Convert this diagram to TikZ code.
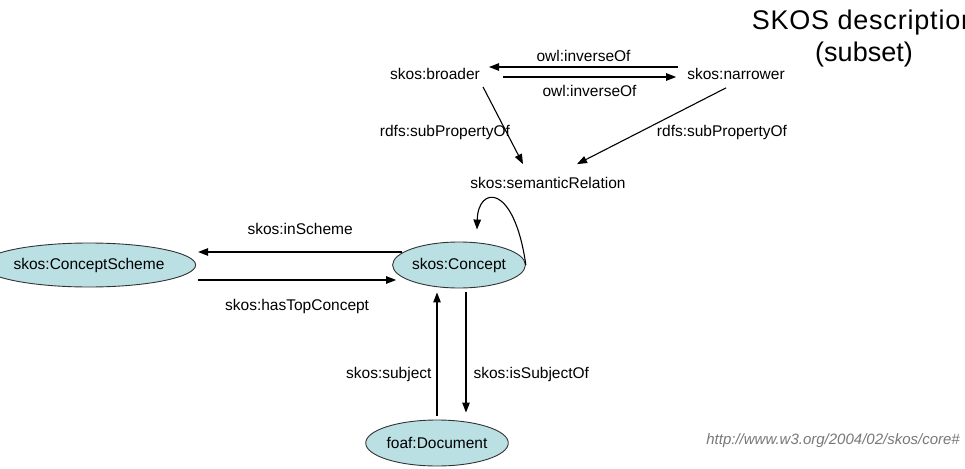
\documentclass[tikz,border=0pt]{standalone}
\usepackage{fontspec}
\setmainfont{Liberation Sans}
\usetikzlibrary{arrows.meta,shapes.geometric}
\definecolor{nodefill}{RGB}{186,224,228}
\definecolor{urlgray}{RGB}{120,120,120}
\tikzset{
  lbl/.style={font=\fontsize{15.5}{17}\selectfont, inner sep=1pt},
  cls/.style={ellipse, draw=black!80, line width=0.9pt, fill=nodefill, inner sep=0pt,
              font=\fontsize{15.5}{17}\selectfont},
  arr/.style={line width=1.1pt, -{Triangle[length=10pt,width=7.5pt]}},
}
\begin{document}
\begin{tikzpicture}[x=1pt,y=-1pt]
\useasboundingbox (0,0) rectangle (965,468);
\clip (0,0) rectangle (965,468);
\fill[white] (0,0) rectangle (965,468);

% property nodes
\node[lbl] (broader)  at (435,74)  {skos:broader};
\node[lbl] (narrower) at (736,74)  {skos:narrower};
\node[lbl] (semrel)   at (548,183) {skos:semanticRelation};

% class nodes
\node[cls, minimum width=107pt, minimum height=46pt] (concept) at (459,265) {skos:Concept};
\node[cls, minimum width=164pt, minimum height=44pt] (scheme)  at (89,265)  {skos:ConceptScheme};
\node[cls, minimum width=100pt, minimum height=46pt] (doc)     at (437,443) {foaf:Document};

% inverse properties
\draw[arr] ([xshift=-8,yshift=7]narrower.west) -- ([xshift=8,yshift=7]broader.east)
  node[lbl, midway, above=4pt] (inv1) {owl:inverseOf};
\draw[arr] ([xshift=22,yshift=-3]broader.east) -- ([xshift=-10,yshift=-3]narrower.west)
  node[lbl, midway, below=7pt] (inv2) {owl:inverseOf};

% sub-properties
\draw[arr] ([xshift=2,yshift=-6]broader.south east) -- ([xshift=-25,yshift=12]semrel.north);
\draw[arr] ([xshift=-10,yshift=-7]narrower.south) -- ([xshift=29,yshift=12]semrel.north);
\node[lbl] (subl) at (445,132) {rdfs:subPropertyOf};
\node[lbl] (subr) at (722,132) {rdfs:subPropertyOf};

% semantic relation loop on skos:Concept
\draw[arr] (concept.east) .. controls (514,182) and (478,186) .. ([xshift=18,yshift=12]concept.north);

% scheme membership
\draw[arr] ([xshift=10,yshift=13]concept.west) -- ([xshift=2,yshift=13]scheme.east)
  node[lbl, midway, above=16pt] (insch) {skos:inScheme};
\draw[arr] ([xshift=2,yshift=-15]scheme.east) -- ([xshift=4,yshift=-15]concept.west)
  node[lbl, midway, below=18pt] (hastop) {skos:hasTopConcept};

% subject
\draw[arr] ([xshift=0,yshift=4]doc.north) -- ([xshift=-22,yshift=-4]concept.south)
  node[lbl, pos=0.33, left=4pt] (subj) {skos:subject};
\draw[arr] ([xshift=7,yshift=-4]concept.south) -- ([xshift=29,yshift=7]doc.north)
  node[lbl, pos=0.68, right=6pt] (issubj) {skos:isSubjectOf};

% title and namespace
\node[font=\fontsize{27}{32}\selectfont, align=center, anchor=north] (title) at (864,6)
  {\addfontfeature{LetterSpace=3}SKOS description\\(subset)};
\node[font=\fontsize{15}{17}\selectfont\itshape, text=urlgray, anchor=east, inner sep=0pt] (url)
  at (960,441) {http://www.w3.org/2004/02/skos/core\#};
\end{tikzpicture}
\end{document}
